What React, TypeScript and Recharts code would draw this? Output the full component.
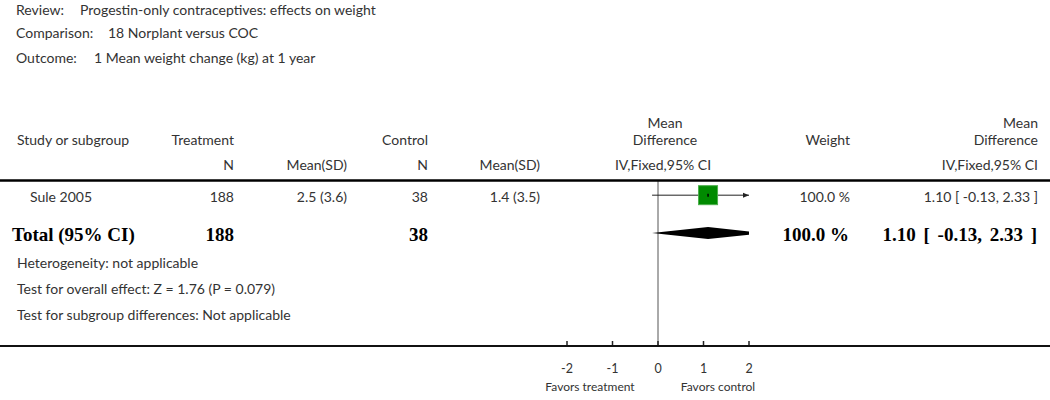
import React from "react";
import {
  ScatterChart,
  Scatter,
  XAxis,
  YAxis,
  ReferenceLine,
} from "recharts";

// study rows
const studies = ["Sule 2005"];
const treatN = [188];
const treatMean = [2.5];
const treatSD = [3.6];
const ctrlN = [38];
const ctrlMean = [1.4];
const ctrlSD = [3.5];
const weights = [100.0];
const meanDiff = [1.1];
const ciLow = [-0.13];
const ciHigh = [2.33];

// pooled
const totalTreatN = 188;
const totalCtrlN = 38;
const totalWeight = 100.0;
const totalMd = 1.1;
const totalLow = -0.13;
const totalHigh = 2.33;

const xTicks = [-2, -1, 0, 1, 2];
const axisLimit = 2;

const reviewText = "Progestin-only contraceptives: effects on weight";
const comparisonText = "18 Norplant versus COC";
const outcomeText = "1 Mean weight change (kg) at 1 year";
const footnotes = [
  "Heterogeneity: not applicable",
  "Test for overall effect: Z = 1.76 (P = 0.079)",
  "Test for subgroup differences: Not applicable",
];

const SANS = "Lato, 'Open Sans', sans-serif";
const SERIF = "'Liberation Serif', 'DejaVu Serif', serif";
const GRAY = "#333";

const fmt = (v: number) => v.toFixed(2);
const ciLabel = (m: number, lo: number, hi: number) =>
  `${fmt(m)} [ ${fmt(lo)}, ${fmt(hi)} ]`;

const studyData = studies.map((s, i) => ({ x: meanDiff[i], y: i, w: weights[i] }));
const totalRow = studies.length;

const SquareShape = (props: any) => {
  const { cx, cy, payload } = props;
  const side = 19 * Math.sqrt(payload.w / 100);
  return (
    <g>
      <rect
        x={cx - side / 2}
        y={cy - side / 2}
        width={side}
        height={side}
        fill="#008a00"
        stroke="#4caf4c"
        strokeWidth={1}
      />
      <line x1={cx} x2={cx} y1={cy - 1.5} y2={cy + 1.5} stroke="#000" strokeWidth={1.5} />
    </g>
  );
};

const ciShape = (clipped: boolean) => (props: any) => {
  const { x1, y1, x2, y2 } = props;
  return (
    <g>
      <line x1={x1} y1={y1} x2={x2} y2={y2} stroke="#222" strokeWidth={1} />
      {clipped && (
        <polygon points={`${x2},${y2} ${x2 - 6},${y2 - 2.5} ${x2 - 6},${y2 + 2.5}`} fill="#222" />
      )}
    </g>
  );
};

const diamondShape = (est: number, lo: number, hi: number) => (props: any) => {
  const { x1, y1, x2 } = props;
  const hiClip = Math.min(hi, axisLimit);
  const cx = x1 + ((est - lo) / (hiClip - lo)) * (x2 - x1);
  const h = 6;
  const rh = hi > axisLimit ? (h * (hi - axisLimit)) / (hi - est) : 0;
  const pts = [
    [x1, y1],
    [cx, y1 - h],
    [x2, y1 - rh],
    [x2, y1 + rh],
    [cx, y1 + h],
  ]
    .map((p) => p.join(","))
    .join(" ");
  return <polygon points={pts} fill="#000" />;
};

const AxisTick = (props: any) => {
  const { x, y, payload } = props;
  return (
    <g>
      <line x1={x} x2={x} y1={y - 4} y2={y} stroke="#222" strokeWidth={1.5} />
      <text x={x} y={y + 28} textAnchor="middle" fontFamily={SANS} fontSize={12.5} fill={GRAY}>
        {payload.value}
      </text>
    </g>
  );
};

const T = (p: {
  x: number;
  y: number;
  children: React.ReactNode;
  anchor?: "start" | "middle" | "end";
  bold?: boolean;
  size?: number;
  ws?: number;
}) => (
  <text
    x={p.x}
    y={p.y}
    textAnchor={p.anchor || "start"}
    fontFamily={p.bold ? SERIF : SANS}
    fontWeight={p.bold ? 700 : 400}
    fontSize={p.size || (p.bold ? 19 : 14)}
    fill={p.bold ? "#000" : GRAY}
    style={p.ws ? { wordSpacing: p.ws } : undefined}
  >
    {p.children}
  </text>
);

export default function App() {
  return (
    <div style={{ position: "absolute", left: 0, top: 0, width: 1050, height: 400, background: "#fff" }}>
      <ScatterChart
        width={1050}
        height={400}
        margin={{ top: 180, right: 301, left: 567, bottom: 25 }}
      >
        <XAxis
          type="number"
          dataKey="x"
          domain={[-axisLimit, axisLimit]}
          ticks={xTicks}
          allowDataOverflow
          axisLine={false}
          tickLine={false}
          tickSize={0}
          tickMargin={0}
          height={30}
          tick={<AxisTick />}
          interval={0}
        />
        <YAxis type="number" dataKey="y" domain={[-0.4, 3.95]} reversed hide width={0} allowDataOverflow />
        <ReferenceLine x={0} stroke="#555" strokeWidth={1} />
        {studyData.map((d, i) => (
          <ReferenceLine
            key={"ci" + i}
            segment={[
              { x: ciLow[i], y: i },
              { x: Math.min(ciHigh[i], axisLimit), y: i },
            ]}
            shape={ciShape(ciHigh[i] > axisLimit)}
          />
        ))}
        <ReferenceLine
          segment={[
            { x: totalLow, y: totalRow },
            { x: Math.min(totalHigh, axisLimit), y: totalRow },
          ]}
          shape={diamondShape(totalMd, totalLow, totalHigh)}
        />
        <Scatter data={studyData} shape={<SquareShape />} isAnimationActive={false} />
      </ScatterChart>
      <svg
        width={1050}
        height={400}
        style={{ position: "absolute", left: 0, top: 0, pointerEvents: "none" }}
      >
        <T x={16} y={15}>Review:</T>
        <T x={80} y={15}>{reviewText}</T>
        <T x={16} y={38}>Comparison:</T>
        <T x={108} y={38}>{comparisonText}</T>
        <T x={16} y={63}>Outcome:</T>
        <T x={94} y={63}>{outcomeText}</T>

        <T x={17} y={145}>Study or subgroup</T>
        <T x={234} y={145} anchor="end">Treatment</T>
        <T x={428} y={145} anchor="end">Control</T>
        <T x={665} y={128} anchor="middle">Mean</T>
        <T x={665} y={145} anchor="middle">Difference</T>
        <T x={850} y={145} anchor="end">Weight</T>
        <T x={1038} y={128} anchor="end">Mean</T>
        <T x={1038} y={145} anchor="end">Difference</T>

        <T x={234} y={170} anchor="end">N</T>
        <T x={347} y={170} anchor="end">Mean(SD)</T>
        <T x={428} y={170} anchor="end">N</T>
        <T x={540} y={170} anchor="end">Mean(SD)</T>
        <T x={663} y={170} anchor="middle">IV,Fixed,95% CI</T>
        <T x={1038} y={170} anchor="end">IV,Fixed,95% CI</T>

        <line x1={0} x2={1050} y1={180.5} y2={180.5} stroke="#000" strokeWidth={2.5} />

        {studies.map((s, i) => (
          <g key={s}>
            <T x={30} y={202}>{s}</T>
            <T x={234} y={202} anchor="end">{treatN[i]}</T>
            <T x={347} y={202} anchor="end">{`${treatMean[i]} (${treatSD[i]})`}</T>
            <T x={428} y={202} anchor="end">{ctrlN[i]}</T>
            <T x={540} y={202} anchor="end">{`${ctrlMean[i]} (${ctrlSD[i]})`}</T>
            <T x={850} y={202} anchor="end">{`${weights[i].toFixed(1)} %`}</T>
            <T x={1038} y={202} anchor="end">{ciLabel(meanDiff[i], ciLow[i], ciHigh[i])}</T>
          </g>
        ))}

        <T x={12} y={241} bold>Total (95% CI)</T>
        <T x={234} y={241} bold anchor="end">{totalTreatN}</T>
        <T x={428} y={241} bold anchor="end">{totalCtrlN}</T>
        <T x={849} y={241} bold anchor="end">{`${totalWeight.toFixed(1)} %`}</T>
        <T x={1037} y={241} bold anchor="end" ws={3}>{ciLabel(totalMd, totalLow, totalHigh)}</T>

        {footnotes.map((f, i) => (
          <T key={f} x={17} y={268 + i * 26}>{f}</T>
        ))}

        <line x1={0} x2={1050} y1={346} y2={346} stroke="#111" strokeWidth={2} />

        <T x={590} y={391} anchor="middle" size={12}>Favors treatment</T>
        <T x={718} y={391} anchor="middle" size={12}>Favors control</T>
      </svg>
    </div>
  );
}
